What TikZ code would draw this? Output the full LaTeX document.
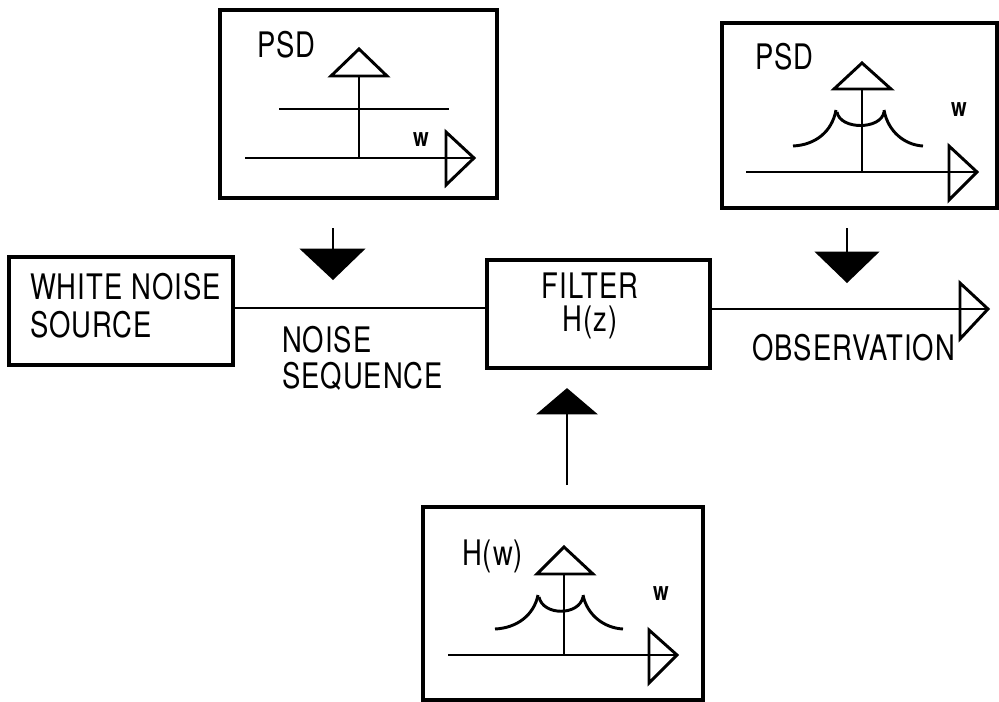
\documentclass[tikz,border=0pt]{standalone}
\usepackage{fontspec}
\setmainfont{TeX Gyre Heros}[FakeStretch=0.78,LetterSpace=3]
\begin{document}
\begin{tikzpicture}[x=0.03cm,y=-0.03cm,line width=2.5pt,
  blk/.style={draw,line width=2.7pt,inner sep=0,outer sep=0},
  lbl/.style={inner sep=0,outer sep=0,font=\fontsize{30pt}{36pt}\selectfont},
  wlbl/.style={inner sep=0,outer sep=0,font=\fontsize{22pt}{26pt}\selectfont\bfseries},
  openhead/.style={draw,fill=white,line join=miter},
  solidhead/.style={fill=black,draw,line join=miter}]
\useasboundingbox (0,0) rectangle (999,702);

% ---- blocks ----
\node[blk,minimum width=8.31cm,minimum height=5.64cm] (psdin) at (358.5,104) {};
\node[blk,minimum width=8.25cm,minimum height=5.55cm] (psdout) at (859.5,115.5) {};
\node[blk,minimum width=6.72cm,minimum height=3.24cm] (src) at (121,311) {};
\node[blk,minimum width=6.69cm,minimum height=3.24cm] (filt) at (598.5,314) {};
\node[blk,minimum width=8.4cm,minimum height=5.79cm] (resp) at (563,603.5) {};

% ---- block texts ----
\node[lbl,anchor=base west] (t1) at (30,299) {WHITE NOISE};
\node[lbl,anchor=base west] (t2) at (30,337) {SOURCE};
\node[lbl,anchor=base] (t3) at (590,298) {FILTER};
\node[lbl,anchor=base] (t4) at (590,331) {H(z)};
\node[lbl,anchor=base west] (t5) at (282,352) {NOISE};
\node[lbl,anchor=base west] (t6) at (282,388) {SEQUENCE};
\node[lbl,anchor=base west] (t7) at (752,360) {OBSERVATION};

% ---- signal path ----
\coordinate (sig) at (0,308);
\coordinate (obs) at (988,309);
\draw (src.east |- sig) -- (filt.west |- sig);
\draw[openhead] (960,283) -- (obs) -- (960,339) -- cycle;
\draw (filt.east |- obs) -- (obs);

% ---- solid arrows between the spectra and the path ----
\coordinate (a1s) at (333,228); \coordinate (a1t) at (333,250);
\draw (a1s) -- (a1t);
\draw[solidhead] (303,250) -- (362,250) -- (333,278) -- cycle;
\coordinate (a2s) at (847,228); \coordinate (a2t) at (847,253);
\draw (a2s) -- (a2t);
\draw[solidhead] (818,253) -- (876,253) -- (847,281) -- cycle;
\coordinate (a3s) at (567,485); \coordinate (a3t) at (567,413);
\draw (a3s) -- (a3t);
\draw[solidhead] (540,413) -- (594,413) -- (567,390) -- cycle;

% ---- input spectrum: flat ----
\node[lbl,anchor=base west] (p1) at (257,58) {PSD};
\draw (359,76) -- (359,158);
\draw[openhead] (331,76) -- (359,49) -- (387,76) -- cycle;
\draw (279,109) -- (449,109);
\draw (245,158) -- (474,158);
\draw[openhead] (446,132) -- (474,158) -- (446,185) -- cycle;
\draw (446,158) -- (474,158);
\node[wlbl] (w1) at (421,140) {w};

% ---- output spectrum: shaped ----
\node[lbl,anchor=base west] (p2) at (755,70) {PSD};
\draw (862,89) -- (862,172);
\draw[openhead] (834,89) -- (862,63) -- (891,89) -- cycle;
\draw (793,146) .. controls (815,145) and (832,132) .. (836,110);
\draw (837,112) .. controls (840,130) and (881,130) .. (884,112);
\draw (884,110) .. controls (888,132) and (905,145) .. (923,146);
\draw (746,172) -- (977,172);
\draw[openhead] (949,146) -- (977,172) -- (949,200) -- cycle;
\draw (949,172) -- (977,172);
\node[wlbl] (w2) at (959,110) {w};

% ---- filter response ----
\node[lbl,anchor=base west] (p3) at (462,565) {H(w)};
\draw (564,574) -- (564,655);
\draw[openhead] (537,574) -- (564,547) -- (593,574) -- cycle;
\draw (495,629) .. controls (517,628) and (534,615) .. (538,595);
\draw (539,597) .. controls (543,616) and (579,616) .. (583,597);
\draw (583,595) .. controls (587,615) and (604,628) .. (623,629);
\draw (448,655) -- (677,655);
\draw[openhead] (649,630) -- (677,655) -- (649,683) -- cycle;
\draw (649,655) -- (677,655);
\node[wlbl] (w3) at (661,594) {w};
\end{tikzpicture}
\end{document}
